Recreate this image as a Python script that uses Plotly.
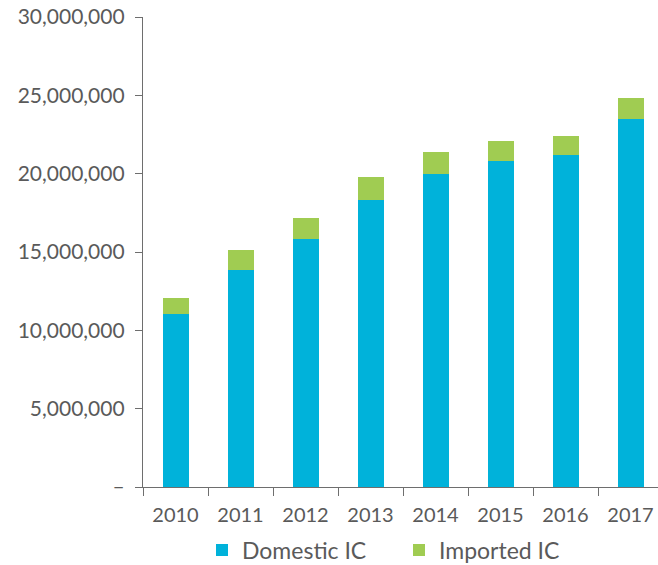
import plotly.graph_objects as go

years = ["2010", "2011", "2012", "2013", "2014", "2015", "2016", "2017"]
domestic = [11020000, 13830000, 15810000, 18300000, 19960000, 20790000, 21170000, 23470000]
imported = [1020000, 1280000, 1340000, 1470000, 1400000, 1280000, 1220000, 1340000]

y_tickvals = [0, 5000000, 10000000, 15000000, 20000000, 25000000, 30000000]
y_ticktext = ["–", "5,000,000", "10,000,000", "15,000,000", "20,000,000", "25,000,000", "30,000,000"]

FONT = "Lato"
GREY = "#5a5a5a"
AXIS = "#6e6e6e"

W, H = 658, 565

fig = go.Figure()
fig.add_trace(go.Bar(x=years, y=domestic, name="Domestic IC", marker=dict(color="#00B2DA", line=dict(width=0))))
fig.add_trace(go.Bar(x=years, y=imported, name="Imported IC", marker=dict(color="#A0CC52", line=dict(width=0))))

fig.update_layout(
    barmode="stack",
    bargap=0.6,
    width=W, height=H,
    margin=dict(l=143, r=0, t=17, b=78),
    paper_bgcolor="white", plot_bgcolor="white",
    font=dict(family=FONT, size=20, color=GREY),
    showlegend=True,
    legend=dict(
        orientation="h", xref="container", yref="container",
        x=202/W, xanchor="left", y=(H-550)/H, yanchor="middle",
        entrywidth=152, font=dict(size=23, color=GREY),
        traceorder="normal",
    ),
    xaxis=dict(
        type="category", range=[-0.5, 7.423],
        showline=True, linecolor=AXIS, linewidth=1.3,
        ticks="outside", tickson="boundaries", ticklen=8, tickwidth=1.3, tickcolor=AXIS,
        ticklabelstandoff=10, ticklabeloverflow="allow",
        showgrid=False, zeroline=False,
        tickfont=dict(size=20, color=GREY),
    ),
    yaxis=dict(
        range=[0, 30000000],
        tickmode="array", tickvals=y_tickvals, ticktext=y_ticktext,
        showline=True, linecolor=AXIS, linewidth=1.3,
        ticks="outside", ticklen=7, tickwidth=1.3, tickcolor=AXIS,
        ticklabelstandoff=6, ticklabeloverflow="allow",
        showgrid=False, zeroline=False,
        tickfont=dict(size=21, color=GREY),
    ),
)

fig.write_html(
    "out.html",
    config={"displayModeBar": False},
    post_script="document.body.style.margin='0';document.body.style.overflow='hidden';",
)
